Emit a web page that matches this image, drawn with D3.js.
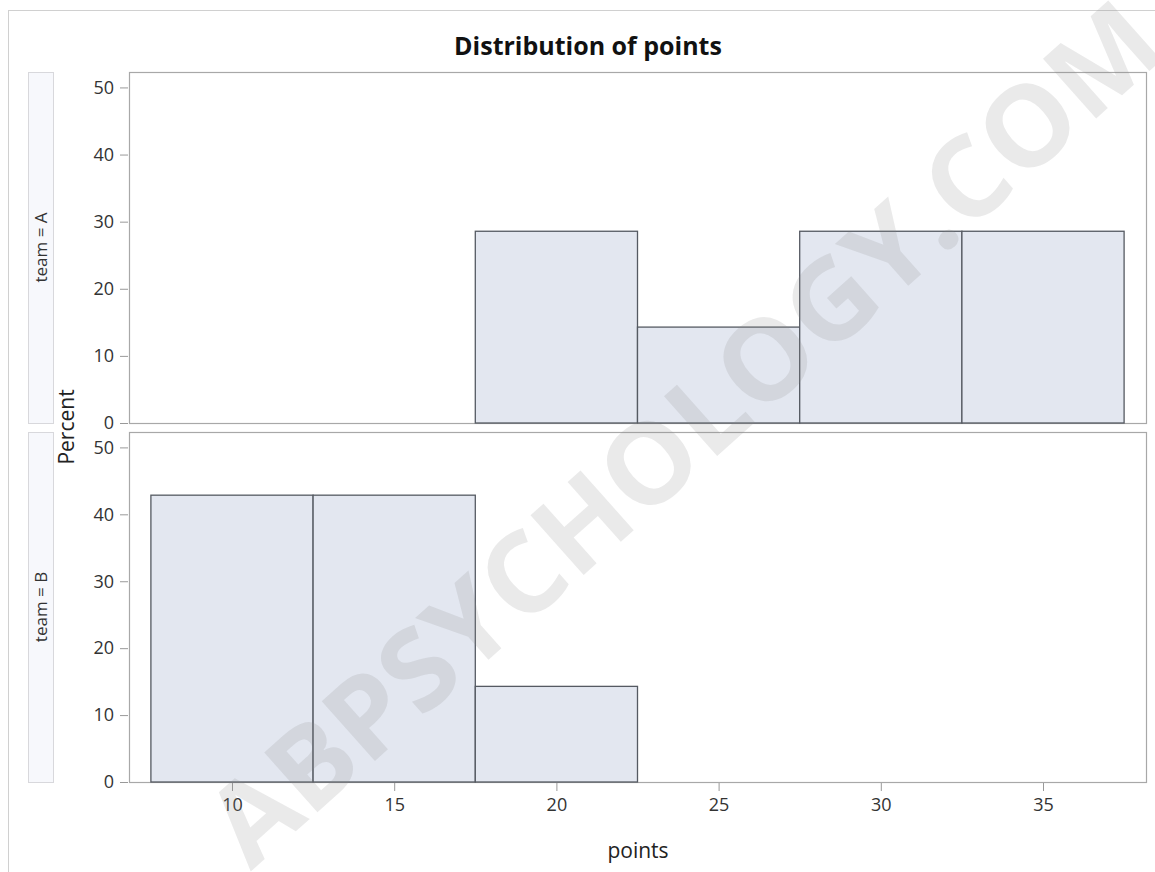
<!DOCTYPE html>
<html>
<head>
<meta charset="utf-8">
<script src="https://cdn.jsdelivr.net/npm/d3@7"></script>
<style>
  body { margin: 0; background: #fff; }
  text { font-family: "Open Sans", "Noto Sans", sans-serif; }
</style>
</head>
<body>
<div class="container"></div>
<script>
const WIDTH = 1155
const HEIGHT = 872

// histogram bins (points) and percent per team
const binEdges = [7.5, 12.5, 17.5, 22.5, 27.5, 32.5, 37.5]
const teams = ['A', 'B']
const percentA = [0, 0, 28.57, 14.29, 28.57, 28.57]
const percentB = [42.86, 42.86, 14.29, 0, 0, 0]
const xTicks = [10, 15, 20, 25, 30, 35]
const yTicks = [0, 10, 20, 30, 40, 50]

const panels = [
  { team: teams[0], values: percentA, top: 72, bottom: 423 },
  { team: teams[1], values: percentB, top: 432, bottom: 782 }
]

const left = 129
const right = 1146
const FONT = '"Open Sans", "Noto Sans", sans-serif'

const svg = d3.select('.container').append('svg')
    .attr('width', WIDTH)
    .attr('height', HEIGHT)

// outer frame
svg.append('rect')
    .attr('x', 8.5).attr('y', 10.5)
    .attr('width', 1160).attr('height', 880)
    .attr('fill', 'none')
    .attr('stroke', '#d0d0d0')

const x = d3.scaleLinear().domain([6.825, 38.175]).range([left, right])

svg.append('text')
    .attr('x', 588)
    .attr('y', 55)
    .attr('text-anchor', 'middle')
    .attr('font-size', 25)
    .attr('font-weight', 'bold')
    .attr('fill', '#111')
    .text('Distribution of points')

panels.forEach((p, pi) => {
    const y = d3.scaleLinear().domain([0, 52.3]).range([p.bottom, p.top])
    const g = svg.append('g')

    // strip label
    g.append('rect')
        .attr('x', 28.5).attr('y', p.top + 0.5)
        .attr('width', 25).attr('height', p.bottom - p.top)
        .attr('fill', '#f7f8fc')
        .attr('stroke', '#d8d8dc')
    g.append('text')
        .attr('transform', `translate(47,${(p.top + p.bottom) / 2}) rotate(-90)`)
        .attr('text-anchor', 'middle')
        .attr('font-size', 17)
        .attr('fill', '#333')
        .text(`team = ${p.team}`)

    // panel frame
    g.append('rect')
        .attr('x', left + 0.5).attr('y', p.top + 0.5)
        .attr('width', right - left).attr('height', p.bottom - p.top)
        .attr('fill', '#fff')
        .attr('stroke', '#a8a8a8')
        .attr('stroke-width', 1.2)

    // bars
    const bins = p.values.map((v, i) => ({ x0: binEdges[i], x1: binEdges[i + 1], v }))
    g.selectAll('rect.bar')
        .data(bins)
        .join('rect')
        .attr('class', 'bar')
        .attr('x', d => x(d.x0))
        .attr('y', d => y(d.v))
        .attr('width', d => x(d.x1) - x(d.x0))
        .attr('height', d => y(0) - y(d.v))
        .attr('fill', '#e3e7f0')
        .attr('stroke', '#555a62')
        .attr('stroke-width', 1.3)
        .attr('stroke-opacity', d => d.v === 0 ? 0.45 : 1)

    // y axis
    const yAxis = d3.axisLeft(y).tickValues(yTicks).tickSize(8).tickPadding(6)
    const ya = g.append('g')
        .attr('transform', `translate(${left - 1},0)`)
        .call(yAxis)
    ya.select('.domain').remove()
    ya.selectAll('line').attr('stroke', '#999')
    ya.selectAll('text').attr('font-size', 18).attr('fill', '#333')
        .attr('font-family', FONT)

    if (pi === panels.length - 1) {
        const xAxis = d3.axisBottom(x).tickValues(xTicks).tickSize(8).tickPadding(7)
        const xa = g.append('g')
            .attr('transform', `translate(0,${p.bottom + 1})`)
            .call(xAxis)
        xa.select('.domain').remove()
        xa.selectAll('line').attr('stroke', '#999')
        xa.selectAll('text').attr('font-size', 18).attr('fill', '#333')
            .attr('font-family', FONT)
    }
})

svg.append('text')
    .attr('transform', `translate(74,${(72 + 782) / 2}) rotate(-90)`)
    .attr('text-anchor', 'middle')
    .attr('font-size', 21)
    .attr('fill', '#222')
    .text('Percent')

svg.append('text')
    .attr('x', 638)
    .attr('y', 858)
    .attr('text-anchor', 'middle')
    .attr('font-size', 21)
    .attr('fill', '#222')
    .text('points')

// watermark
svg.append('text')
    .attr('transform', 'translate(690,440) rotate(-41.7)')
    .attr('text-anchor', 'middle')
    .attr('dominant-baseline', 'middle')
    .attr('font-size', 112)
    .attr('font-weight', 'bold')
    .attr('font-family', '"Liberation Sans", Arial, sans-serif')
    .attr('textLength', 1230)
    .attr('lengthAdjust', 'spacingAndGlyphs')
    .attr('fill', '#8a8a8a')
    .attr('fill-opacity', 0.18)
    .text('ABPSYCHOLOGY.COM')
</script>
</body>
</html>
